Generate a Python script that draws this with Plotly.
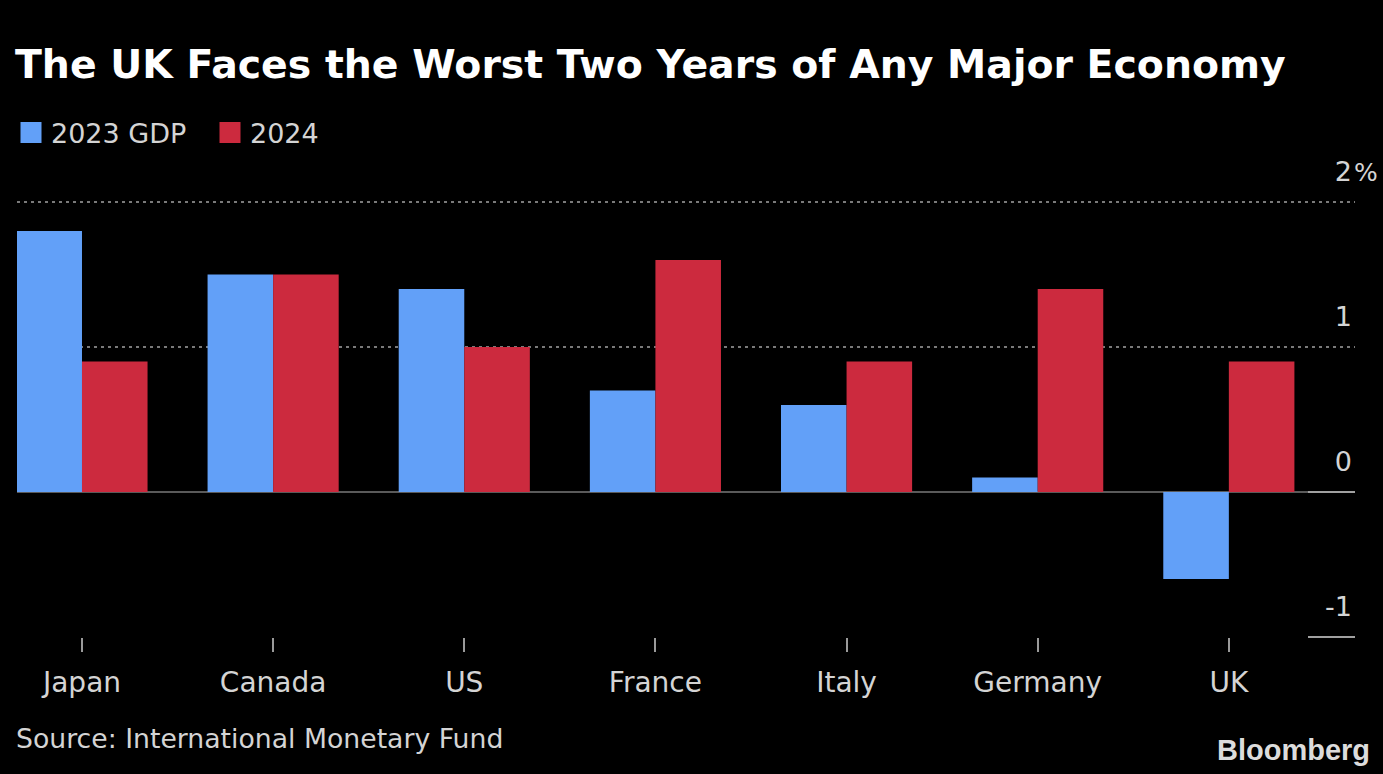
import plotly.graph_objects as go

countries = ["Japan", "Canada", "US", "France", "Italy", "Germany", "UK"]
gdp_2023 = [1.8, 1.5, 1.4, 0.7, 0.6, 0.1, -0.6]
gdp_2024 = [0.9, 1.5, 1.0, 1.6, 0.9, 1.4, 0.9]
series_names = ["2023 GDP", "2024"]
y_tickvals = [-1, 0, 1, 2]
y_ticktext = ["-1", "0", "1", "2"]
grid_vals = [1, 2]

BLUE = "#62a0f8"
RED = "#cc2a3e"
TXT = "#d4d4d4"
FONT = "DejaVu Sans"

W, H = 1383, 774
L, R, T, B = 17, 28, 151, 137
YR = [-1, 2.352]

fig = go.Figure()
fig.add_trace(go.Bar(x=countries, y=gdp_2023, name=series_names[0], marker=dict(color=BLUE, line=dict(width=0)), showlegend=False))
fig.add_trace(go.Bar(x=countries, y=gdp_2024, name=series_names[1], marker=dict(color=RED, line=dict(width=0)), showlegend=False))
# legend-only entries
for nm, col in zip(series_names, [BLUE, RED]):
    fig.add_trace(go.Scatter(x=[countries[0]], y=[None], mode="markers", name=nm, yaxis="y2",
                             marker=dict(symbol="square", size=16, color=col, line=dict(color=col, width=6))))

fig.update_layout(
    width=W, height=H,
    paper_bgcolor="black", plot_bgcolor="black",
    margin=dict(l=L, r=R, t=T, b=B, autoexpand=False),
    barmode="group", bargap=0.314, bargroupgap=0,
    font=dict(family=FONT, color=TXT, size=26),
    title=dict(text="The UK Faces the Worst Two Years of Any Major Economy",
               font=dict(family=FONT, size=39.4, color="white", weight="bold"),
               x=15 / W, xanchor="left", xref="container",
               y=1 - 64 / H, yanchor="middle", yref="container"),
    legend=dict(orientation="h", x=11 / W, xanchor="left", xref="container",
                y=1 - 133 / H, yanchor="middle", yref="container",
                font=dict(size=27, color=TXT), bgcolor="rgba(0,0,0,0)",
                entrywidth=154, entrywidthmode="pixels",
                itemclick=False, tracegroupgap=0),
    xaxis=dict(type="category", range=[-0.34, 6.66], showgrid=False, zeroline=False, showline=False,
               ticks="outside", ticklen=14, tickwidth=2, tickcolor="#9a9a9a",
               ticklabelstandoff=6, tickfont=dict(size=28, color=TXT), fixedrange=True),
    yaxis=dict(range=YR, side="right", tickmode="array", tickvals=y_tickvals, ticktext=y_ticktext,
               ticklabelposition="inside", ticklabelshift=-30, ticks="", showgrid=False,
               zeroline=True, zerolinecolor="#5a5a5a", zerolinewidth=2,
               tickfont=dict(size=27, color=TXT),
               minor=dict(tickmode="array", tickvals=[-1, 0], ticks="inside", ticklen=47,
                          tickwidth=2, tickcolor="#a0a0a0", showgrid=False),
               fixedrange=True),
    yaxis2=dict(range=YR, overlaying="y", side="right", tickmode="array", tickvals=grid_vals,
                showticklabels=False, ticks="", showgrid=True, griddash="3px,4px", gridcolor="#7a7a7a",
                gridwidth=2, zeroline=False, fixedrange=True),
)

PH = H - T - B
fig.add_annotation(text="%", xref="paper", yref="y", x=1, y=2, xanchor="left", yanchor="middle",
                   yshift=30, xshift=-3, showarrow=False, font=dict(size=25, color=TXT))
fig.add_annotation(text="Source: International Monetary Fund", xref="paper", yref="paper",
                   x=0, y=(H - B - 738) / PH, xanchor="left", yanchor="middle", xshift=-3,
                   showarrow=False, font=dict(size=26.7, color=TXT))
fig.add_annotation(text="<b>Bloomberg</b>", xref="paper", yref="paper",
                   x=(1372 - L) / (W - L - R), y=(H - B - 750) / PH, xanchor="right", yanchor="middle",
                   showarrow=False, font=dict(family="Liberation Sans", size=29, color="#dcdcdc"))

fig.write_html("out.html", config={"displayModeBar": False},
               post_script="document.body.style.margin='0';document.body.style.overflow='hidden';")
